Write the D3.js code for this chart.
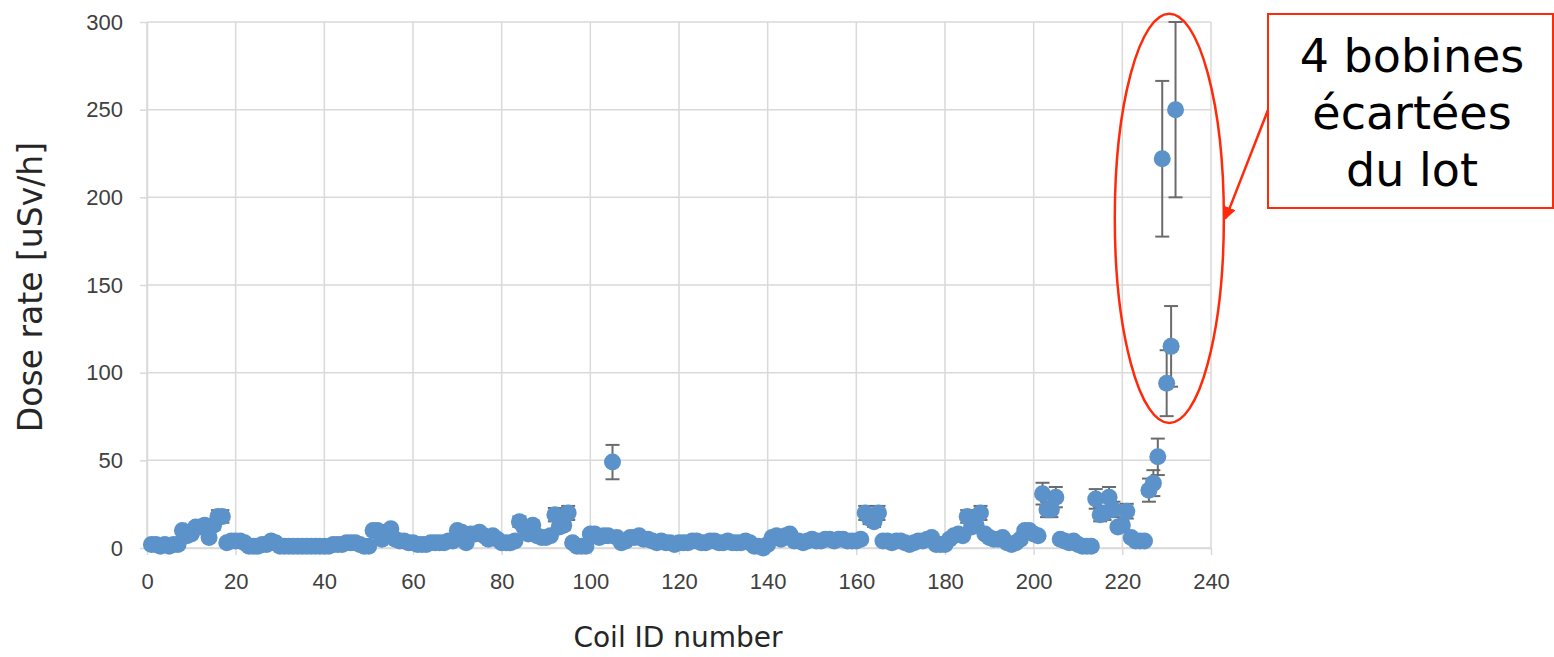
<!DOCTYPE html>
<html>
<head>
	<meta charset="utf-8">
	<title>Dose rate per coil</title>
	<script src="https://cdn.jsdelivr.net/npm/d3@7"></script>
	<style type="text/css">
	body { margin: 0; background: #fff; }
	svg { font-family: "DejaVu Sans", sans-serif; }
	.grid line { stroke: #d9d9d9; stroke-width: 1.5; }
	.axis path, .axis line { stroke: #d9d9d9; stroke-width: 1.5; }
	.axis text { fill: #404040; font-size: 22px; }
	</style>
</head>
<body>
	<svg></svg>
<script>
	// dose rate per coil, coil ID = index + 1
	var doseRate = [
	2, 2, 1, 2, 1, 2, 2, 10, 7, 8,
	12, 12, 13, 6, 13, 18, 18, 3, 4, 4,
	4, 3, 1, 1, 1, 2, 2, 4, 3, 1,
	1, 1, 1, 1, 1, 1, 1, 1, 1, 1,
	1, 2, 2, 2, 3, 3, 3, 2, 1, 1,
	10, 10, 5, 9, 11, 5, 4, 4, 3, 3,
	2, 2, 2, 3, 3, 3, 3, 4, 4, 10,
	9, 3, 8, 8, 9, 7, 5, 7, 5, 3,
	3, 3, 4, 15, 12, 8, 13, 7, 6, 6,
	7, 19, 12, 13, 20, 3, 1, 1, 1, 8,
	8, 6, 7, 7, 49, 6, 3, 4, 6, 6,
	7, 5, 5, 4, 3, 4, 3, 3, 2, 3,
	3, 3, 4, 4, 3, 3, 4, 4, 3, 3,
	4, 3, 3, 3, 4, 3, 1, 1, 0, 2,
	6, 7, 5, 7, 8, 4, 4, 3, 4, 5,
	4, 4, 5, 5, 4, 5, 5, 4, 4, 4,
	5, 20, 17, 15, 20, 4, 4, 3, 4, 4,
	3, 2, 3, 4, 4, 5, 6, 2, 2, 2,
	5, 7, 8, 7, 18, 12, 13, 20, 8, 6,
	5, 5, 6, 3, 2, 3, 5, 10, 10, 8,
	7, 31, 22, 22, 29, 5, 4, 3, 4, 2,
	1, 1, 1, 28, 19, 20, 29, 22, 12, 13,
	21, 6, 4, 4, 4, 33, 37, 52, 222, 94,
	115, 250];

	// percentage error bars (as set in the spreadsheet)
	var errPct = 0.2;

	var xTicks = [0, 20, 40, 60, 80, 100, 120, 140, 160, 180, 200, 220, 240];
	var yTicks = [0, 50, 100, 150, 200, 250, 300];

	var calloutLines = ["4 bobines", "écartées", "du lot"];

	var margin = {top: 22, right: 343, bottom: 109, left: 147},
		W = 1554, H = 657,
		width = W - margin.left - margin.right,
		height = H - margin.top - margin.bottom;

	var x = d3.scaleLinear().domain([0, 240]).range([0, width]);
	var y = d3.scaleLinear().domain([0, 300]).range([height, 0]);

	var svg = d3.select("svg").attr("width", W).attr("height", H);
	var chart = svg.append("g").attr("transform", "translate(" + margin.left + "," + margin.top + ")");

	// gridlines
	chart.append("g").attr("class", "grid")
		.selectAll("line").data(xTicks).enter().append("line")
		.attr("x1", function(d) { return x(d); }).attr("x2", function(d) { return x(d); })
		.attr("y1", 0).attr("y2", height);
	chart.append("g").attr("class", "grid")
		.selectAll("line").data(yTicks).enter().append("line")
		.attr("x1", 0).attr("x2", width)
		.attr("y1", function(d) { return y(d); }).attr("y2", function(d) { return y(d); });

	// axes
	var xAxis = chart.append("g").attr("class", "axis")
		.attr("transform", "translate(0," + height + ")")
		.call(d3.axisBottom(x).tickValues(xTicks).tickSize(7).tickPadding(18).tickSizeOuter(0));
	var yAxis = chart.append("g").attr("class", "axis")
		.call(d3.axisLeft(y).tickValues(yTicks).tickSize(7).tickPadding(17).tickSizeOuter(0));
	xAxis.selectAll("text").attr("dy", "0.71em");

	var pts = doseRate.map(function(v, i) { return {id: i + 1, v: v}; });

	// error bars
	var eb = chart.append("g").selectAll("g").data(pts).enter().append("g")
		.attr("stroke", "#6b6b6b").attr("stroke-width", 2);
	eb.append("line")
		.attr("x1", function(d) { return x(d.id); }).attr("x2", function(d) { return x(d.id); })
		.attr("y1", function(d) { return y(d.v * (1 + errPct)); })
		.attr("y2", function(d) { return y(d.v * (1 - errPct)); });
	eb.append("line")
		.attr("x1", function(d) { return x(d.id) - 7; }).attr("x2", function(d) { return x(d.id) + 7; })
		.attr("y1", function(d) { return y(d.v * (1 + errPct)); })
		.attr("y2", function(d) { return y(d.v * (1 + errPct)); });
	eb.append("line")
		.attr("x1", function(d) { return x(d.id) - 7; }).attr("x2", function(d) { return x(d.id) + 7; })
		.attr("y1", function(d) { return y(d.v * (1 - errPct)); })
		.attr("y2", function(d) { return y(d.v * (1 - errPct)); });

	// markers
	chart.append("g").selectAll("circle").data(pts).enter().append("circle")
		.attr("cx", function(d) { return x(d.id); })
		.attr("cy", function(d) { return y(d.v); })
		.attr("r", 8.5)
		.attr("fill", "#5b92ca");

	// axis titles
	svg.append("text")
		.attr("x", 678).attr("y", 647)
		.attr("text-anchor", "middle").attr("font-size", 28).attr("fill", "#262626")
		.text("Coil ID number");
	svg.append("text")
		.attr("transform", "translate(42,287) rotate(-90)")
		.attr("text-anchor", "middle").attr("font-size", 33).attr("fill", "#262626")
		.text("Dose rate [uSv/h]");

	// annotation: ellipse around the outliers
	var red = "#ff2a0a";
	chart.append("ellipse")
		.attr("cx", x(230.6)).attr("cy", y(188))
		.attr("rx", x(12.3) - x(0)).attr("ry", y(0) - y(116.7))
		.attr("fill", "none").attr("stroke", red).attr("stroke-width", 2.5);

	svg.append("defs").append("marker")
		.attr("id", "arr").attr("viewBox", "0 0 10 10").attr("refX", 9).attr("refY", 5)
		.attr("markerWidth", 5).attr("markerHeight", 5).attr("orient", "auto")
		.append("path").attr("d", "M0,0L10,5L0,10z").attr("fill", red);

	svg.append("line")
		.attr("x1", 1268).attr("y1", 110)
		.attr("x2", margin.left + x(243.3)).attr("y2", margin.top + y(188))
		.attr("stroke", red).attr("stroke-width", 2.5).attr("marker-end", "url(#arr)");

	svg.append("rect")
		.attr("x", 1268).attr("y", 14).attr("width", 285).attr("height", 194)
		.attr("fill", "#fff").attr("stroke", red).attr("stroke-width", 2);

	svg.append("g").selectAll("text").data(calloutLines).enter().append("text")
		.attr("x", 1412).attr("y", function(d, i) { return 72 + i * 57; })
		.attr("text-anchor", "middle").attr("font-size", 46).attr("fill", "#000")
		.text(function(d) { return d; });
</script>
</body>
</html>
